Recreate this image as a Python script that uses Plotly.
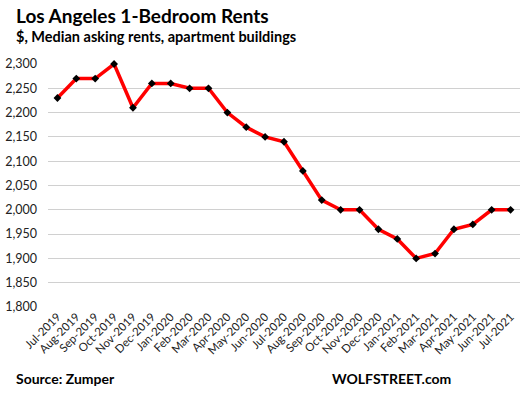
import plotly.graph_objects as go

months = ["Jul-2019","Aug-2019","Sep-2019","Oct-2019","Nov-2019","Dec-2019",
          "Jan-2020","Feb-2020","Mar-2020","Apr-2020","May-2020","Jun-2020",
          "Jul-2020","Aug-2020","Sep-2020","Oct-2020","Nov-2020","Dec-2020",
          "Jan-2021","Feb-2021","Mar-2021","Apr-2021","May-2021","Jun-2021","Jul-2021"]
rents = [2230,2270,2270,2300,2210,2260,
         2260,2250,2250,2200,2170,2150,
         2140,2080,2020,2000,2000,1960,
         1940,1900,1910,1960,1970,2000,2000]
y_ticks = list(range(1800, 2301, 50))
y_labels = [f"{v:,}" for v in y_ticks]

L, R, T, B, W, H = 48, 0, 64, 89, 520, 396

fig = go.Figure(go.Scatter(
    x=months, y=rents, mode="lines+markers",
    line=dict(color="#ff0000", width=3.5),
    marker=dict(symbol="diamond", color="black", size=6),
    cliponaxis=False,
    hoverinfo="skip",
))

def px2paper(px, py):
    return (px - L) / (W - L - R), (H - py - B) / (H - T - B)

anns = [
    ("<b>Los Angeles 1-Bedroom Rents</b>", 14, 2, 19),
    ("<b>$, Median asking rents, apartment buildings</b>", 14, 26, 14.5),
    ("<b>Source: Zumper</b>", 14, 368, 14),
    ("<b>WOLFSTREET.com</b>", 330, 368, 14),
]
annotations = []
for text, px, py, size in anns:
    x, y = px2paper(px, py)
    annotations.append(dict(text=text, x=x, y=y, xref="paper", yref="paper",
                            showarrow=False, xanchor="left", yanchor="top",
                            font=dict(size=size, color="black")))

fig.update_layout(
    width=W, height=H,
    margin=dict(l=L, r=R, t=T, b=B, autoexpand=False),
    plot_bgcolor="white", paper_bgcolor="white",
    font=dict(family="Lato, Liberation Sans, sans-serif", color="#222", size=12),
    showlegend=False,
    xaxis=dict(type="category", tickangle=-45, showgrid=False, zeroline=False,
               showline=False, ticks="", tickfont=dict(size=11.5), automargin=False,
               range=[-0.5, len(months) - 0.5]),
    yaxis=dict(range=[1800, 2300], tickvals=y_ticks, ticktext=y_labels,
               showgrid=True, gridcolor="#d0d0d0", gridwidth=1, zeroline=False,
               ticks="", ticklabelstandoff=10, tickfont=dict(size=12.5), automargin=False),
    annotations=annotations,
)

fig.write_html("out.html", config={"displayModeBar": False},
               post_script="document.body.style.margin='0';document.body.style.overflow='hidden';")
